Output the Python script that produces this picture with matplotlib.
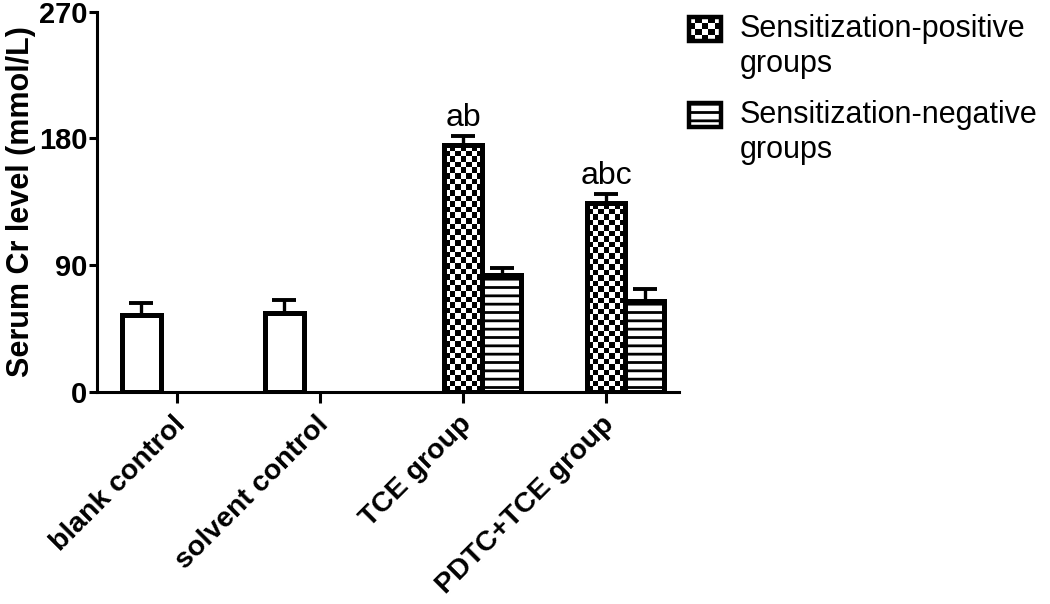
import numpy as np
import matplotlib
matplotlib.use('Agg')
import matplotlib.pyplot as plt
import matplotlib.transforms as mtransforms
from matplotlib.patches import Rectangle, Patch
from matplotlib.legend_handler import HandlerBase

# ---------------- data ----------------
categories = ['blank control', 'solvent control', 'TCE group', 'PDTC+TCE group']
control_idx = [0, 1]
control_vals = [55.0, 56.2]
control_err = [8.0, 8.8]
treat_idx = [2, 3]
pos_vals = [175.3, 134.0]
pos_err = [6.5, 6.6]
neg_vals = [83.4, 64.5]
neg_err = [4.7, 8.3]
annotations = ['ab', 'abc']
series_labels = ['Sensitization-positive\ngroups', 'Sensitization-negative\ngroups']
yticks = [0, 90, 180, 270]
ylabel = 'Serum Cr level (mmol/L)'

# ---------------- style ----------------
plt.rcParams['font.family'] = ['Liberation Sans', 'DejaVu Sans']
plt.rcParams['hatch.linewidth'] = 2.0

fig = plt.figure(figsize=(10.5, 6.04), dpi=100)
ax = fig.add_axes([97/1050, 1-392/604, (679-97)/1050, (392-11.7)/604])

bw = 0.27
edge_lw = 3.6
ax.set_xlim(-0.56, 3.51)
ax.set_ylim(0, 270)

x = np.arange(len(categories))
xc = x[control_idx] - 0.25
xp = x[treat_idx] + 0.0
xn = x[treat_idx] + bw

err_kw = dict(fmt='none', ecolor='black', elinewidth=2.4, capsize=8.5, capthick=2.8, zorder=1)

ax.errorbar(xc, control_vals, yerr=[np.zeros(len(control_err)), control_err], **err_kw)
ax.errorbar(xp, pos_vals, yerr=[np.zeros(len(pos_err)), pos_err], **err_kw)
ax.errorbar(xn, neg_vals, yerr=[np.zeros(len(neg_err)), neg_err], **err_kw)

ax.bar(xc, control_vals, width=bw, facecolor='white', edgecolor='black', linewidth=edge_lw, zorder=2)
pbars = ax.bar(xp, pos_vals, width=bw, facecolor='none', edgecolor='black', linewidth=edge_lw, zorder=2)
ax.bar(xn, neg_vals, width=bw, facecolor='white', edgecolor='black', linewidth=edge_lw, hatch='--', zorder=2)


def checker_fill(ax, bar, cell_px=5.6):
    x0, y0 = bar.get_x(), bar.get_y()
    w, h = bar.get_width(), bar.get_height()
    p0 = ax.transData.transform((x0, y0))
    p1 = ax.transData.transform((x0 + w, y0 + h))
    nx = max(1, int(round((p1[0] - p0[0]) / cell_px)))
    ny = max(1, int(round((p1[1] - p0[1]) / cell_px)))
    arr = np.add.outer(np.arange(ny), np.arange(nx)) % 2
    im = ax.imshow(arr, extent=[x0, x0 + w, y0, y0 + h], cmap='gray', vmin=0, vmax=1,
                   interpolation='nearest', aspect='auto', origin='lower', zorder=1.5)
    im.set_clip_path(bar)


for b in pbars:
    checker_fill(ax, b)

ax.set_xlim(-0.56, 3.51)
ax.set_ylim(0, 270)

for xi, v, e, t in zip(xp, pos_vals, pos_err, annotations):
    ax.annotate(t, (xi, v + e), xytext=(0, 2), textcoords='offset points',
                ha='center', va='bottom', fontsize=23)

# axes styling
for s in ['top', 'right']:
    ax.spines[s].set_visible(False)
for s in ['left', 'bottom']:
    ax.spines[s].set_linewidth(2.2)
ax.set_yticks(yticks)
ax.set_yticklabels([str(t) for t in yticks], fontsize=21, fontweight='bold')
ax.tick_params(axis='y', length=6, width=2.2, pad=1)
ax.tick_params(axis='x', length=8, width=2.2, pad=5)
ax.set_xticks(x)
ax.set_xticklabels(categories, rotation=45, ha='right', va='top', rotation_mode='anchor',
                   fontsize=20.5, fontweight='bold')
shift = mtransforms.ScaledTranslation(-5/100, -1/100, fig.dpi_scale_trans)
for lbl in ax.get_xticklabels():
    lbl.set_transform(lbl.get_transform() + shift)
ax.set_ylabel(ylabel, fontsize=22, fontweight='bold', labelpad=2)


# ---------------- legend ----------------
class CheckerHandler(HandlerBase):
    def create_artists(self, legend, orig_handle, xdescent, ydescent, width, height, fontsize, trans):
        lift = 0.6 * fontsize
        x0, y0 = -xdescent, -ydescent + lift
        arts = [Rectangle((x0, y0), width, height, facecolor='white', edgecolor='none', transform=trans)]
        nx, ny = 5, 4
        cw, ch = width / nx, height / ny
        for i in range(nx):
            for j in range(ny):
                if (i + j) % 2 == 0:
                    arts.append(Rectangle((x0 + i * cw, y0 + j * ch), cw, ch, facecolor='black',
                                          edgecolor='none', transform=trans))
        arts.append(Rectangle((x0, y0), width, height, facecolor='none', edgecolor='black',
                              linewidth=3.2, transform=trans))
        return arts


class LinesHandler(HandlerBase):
    def create_artists(self, legend, orig_handle, xdescent, ydescent, width, height, fontsize, trans):
        lift = 0.6 * fontsize
        x0, y0 = -xdescent, -ydescent + lift
        r = Rectangle((x0, y0), width, height, facecolor='white', edgecolor='black',
                      linewidth=3.2, hatch='--', transform=trans)
        return [r]


h_pos = Patch(facecolor='white', edgecolor='black')
h_neg = Patch(facecolor='white', edgecolor='black', hatch='--')
fig.legend([h_pos, h_neg], series_labels,
           handler_map={h_pos: CheckerHandler(), h_neg: LinesHandler()},
           loc='upper left', bbox_to_anchor=(689/1050, 1 - 14/604), frameon=False,
           fontsize=22, handlelength=1.05, handleheight=0.8, handletextpad=0.6,
           labelspacing=0.7, borderaxespad=0, borderpad=0)

fig.savefig('out.png', dpi=100)
